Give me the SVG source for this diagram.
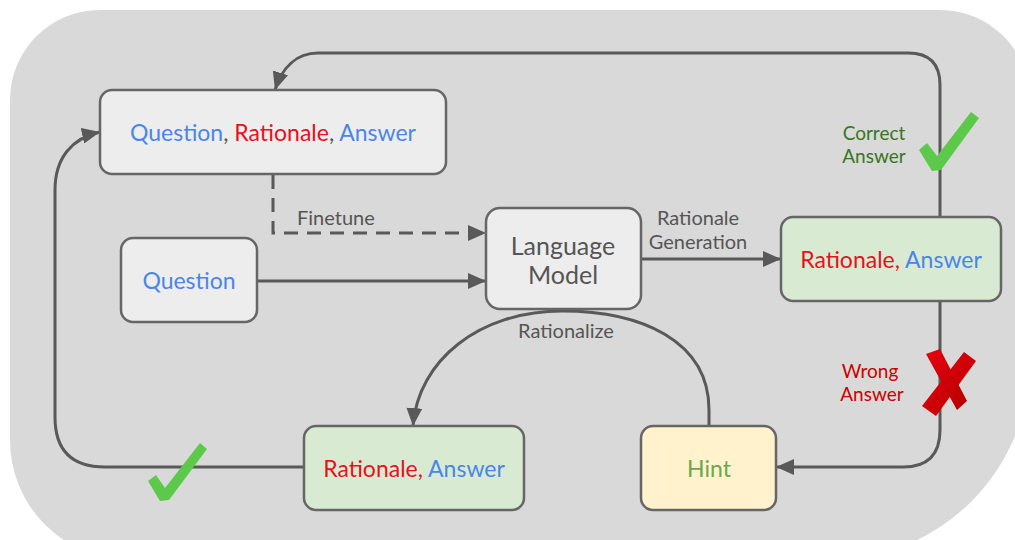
<svg xmlns="http://www.w3.org/2000/svg" width="1015" height="540" viewBox="0 0 1015 540">
<defs>
<marker id="arr" markerUnits="userSpaceOnUse" markerWidth="20" markerHeight="16" refX="18" refY="8" orient="auto">
<path d="M0,0 L18,8 L0,16 z" fill="#595959"/>
</marker>
<linearGradient id="xg" x1="0" y1="0" x2="1" y2="1">
<stop offset="0" stop-color="#e8000f"/>
<stop offset="1" stop-color="#b50000"/>
</linearGradient>
</defs>
<style>
.box{stroke:#666;stroke-width:2.5}
.gray{fill:#ededed}
.green{fill:#d9ead3}
.yellow{fill:#fff2cc}
.t{font-family:Lato,"Open Sans","Liberation Sans",sans-serif;text-anchor:middle}
.big{font-size:23px}
.lbl{font-size:20px;fill:#555}
.b{fill:#4a86e8}
.r{fill:#e8101c}
.k{fill:#555}
.con{fill:none;stroke:#595959;stroke-width:3}
</style>
<rect width="1015" height="540" fill="#ffffff"/>
<path d="M100,10 H940 A90 90 0 0 1 1030,100 V360 A200 200 0 0 1 830,560 H130 A120 120 0 0 1 10,440 V100 A90 90 0 0 1 100,10 Z" fill="#d9d9d9"/>

<g id="connectors">
<path class="con" d="M940,217 V85 Q940,53 908,53 H318 C296,53 282,68 275,90" marker-end="url(#arr)"/>
<path class="con" d="M273,175 V233 H486" stroke-dasharray="14,9" marker-end="url(#arr)"/>
<path class="con" d="M257,281 H486" marker-end="url(#arr)"/>
<path class="con" d="M641,259 H781" marker-end="url(#arr)"/>
<path class="con" d="M940,301 V430 Q940,467 903,467 H776" marker-end="url(#arr)"/>
<path class="con" d="M709,426 V410 C709,340 640,311 562,311 C480,311 418,360 413,426" marker-end="url(#arr)"/>
<path class="con" d="M304,467 H105 Q55,467 55,417 V190 C55,158 72,138 100,132" marker-end="url(#arr)"/>
<text class="t lbl" x="297" y="225" style="text-anchor:start">Finetune</text>
<text class="t lbl" x="698" y="225">Rationale</text>
<text class="t lbl" x="698" y="249">Generation</text>
<text class="t lbl" x="566" y="338">Rationalize</text>
<text class="t" x="874" y="140" style="font-size:19px;fill:#38761d">Correct</text>
<text class="t" x="874" y="163" style="font-size:19px;fill:#38761d">Answer</text>
<text class="t" x="870" y="378" style="font-size:19px;fill:#cc0000">Wrong</text>
<text class="t" x="872" y="401" style="font-size:19px;fill:#cc0000">Answer</text>
<path d="M919,150 L927,143 L937,156 L971,112 L979,118 L941,170 L932,171 Z" fill="#5cc94a"/>
<path d="M148,481 L156,475 L165,488 L200,443 L207,449 L169,500 L160,501 Z" fill="#5cc94a"/>
<path d="M964,352 L976,361 L936,416 L922,406 Z" fill="url(#xg)"/>
<path d="M926,354 L940,349 L967,401 L957,410 Z" fill="url(#xg)"/>
</g>

<g id="node-qra">
<rect class="box gray" x="100" y="90" width="346" height="84" rx="12"/>
<text class="t big" x="273" y="141"><tspan class="b">Question</tspan><tspan class="k">, </tspan><tspan class="r">Rationale</tspan><tspan class="k">, </tspan><tspan class="b">Answer</tspan></text>
</g>
<g id="node-question">
<rect class="box gray" x="121" y="238" width="136" height="84" rx="12"/>
<text class="t big b" x="189" y="289">Question</text>
</g>
<g id="node-lm">
<rect class="box gray" x="486" y="208" width="155" height="101" rx="14"/>
<text class="t" x="563" y="255" style="font-size:25px;fill:#555">Language</text>
<text class="t" x="563" y="284" style="font-size:25px;fill:#555">Model</text>
</g>
<g id="node-ra-right">
<rect class="box green" x="781" y="217" width="220" height="84" rx="12"/>
<text class="t big" x="891" y="268"><tspan class="r">Rationale, </tspan><tspan class="b">Answer</tspan></text>
</g>
<g id="node-ra-bottom">
<rect class="box green" x="304" y="426" width="220" height="84" rx="12"/>
<text class="t big" x="414" y="477"><tspan class="r">Rationale, </tspan><tspan class="b">Answer</tspan></text>
</g>
<g id="node-hint">
<rect class="box yellow" x="641" y="426" width="135" height="84" rx="12"/>
<text class="t big" x="709" y="477" style="fill:#6aa84f">Hint</text>
</g>
</svg>
